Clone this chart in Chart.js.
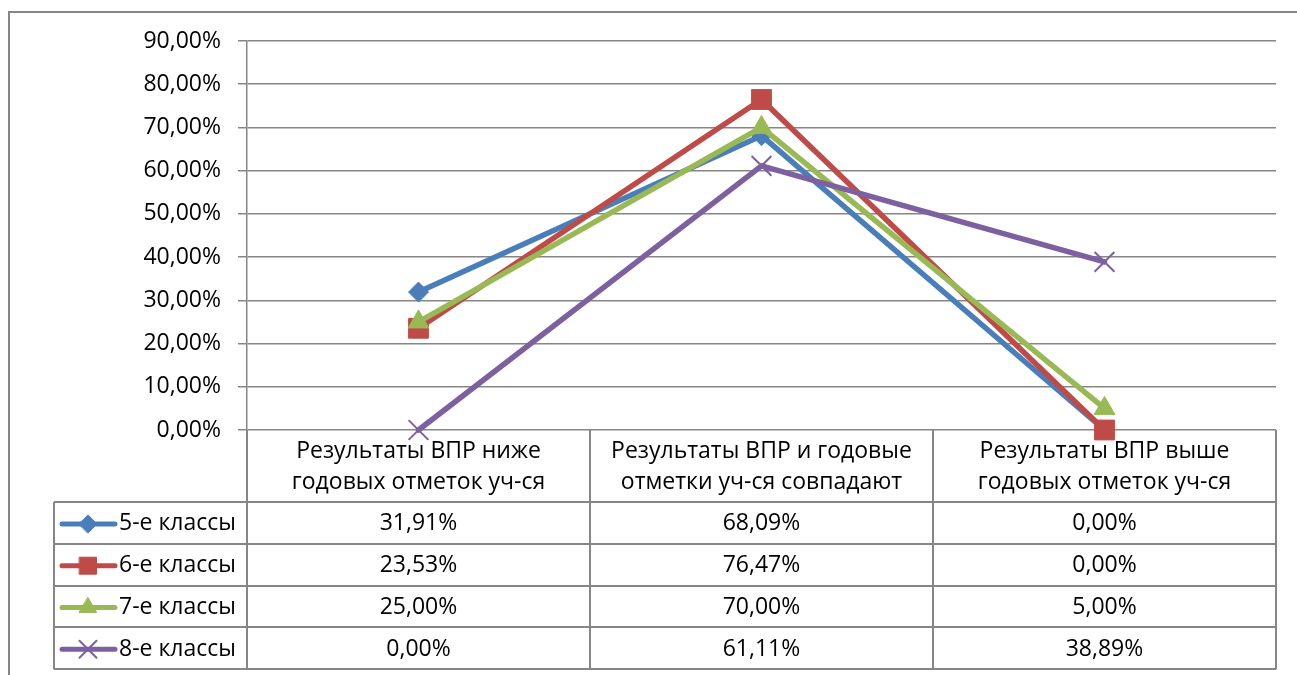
<!DOCTYPE html>
<html>
<head>
<meta charset="utf-8">
<script src="https://cdn.jsdelivr.net/npm/chart.js@4"></script>
<style>
  html, body { margin: 0; padding: 0; background: #fff; }
  #wrap { width: 1297px; height: 675px; }
</style>
</head>
<body>
<div id="wrap"><canvas id="chart" width="1297" height="675"></canvas></div>
<script>
const categories = [
  ['Результаты ВПР ниже', 'годовых отметок уч-ся'],
  ['Результаты ВПР и годовые', 'отметки уч-ся совпадают'],
  ['Результаты ВПР выше', 'годовых отметок уч-ся']
];
const seriesNames = ['5-е классы', '6-е классы', '7-е классы', '8-е классы'];
const grade5 = [31.91, 68.09, 0.00];
const grade6 = [23.53, 76.47, 0.00];
const grade7 = [25.00, 70.00, 5.00];
const grade8 = [0.00, 61.11, 38.89];
const yTicks = [0, 10, 20, 30, 40, 50, 60, 70, 80, 90];

const FONT = '"Open Sans", sans-serif';
const GRID = '#868686';

function pct(v) {
  return v.toFixed(2).replace('.', ',') + '%';
}

// marker look per series
const styles = [
  { color: '#4A7EBB', point: 'rectRot', radius: 10, key: 9, bw: 1 },
  { color: '#BE4B48', point: 'rect', radius: 14, key: 12, bw: 1 },
  { color: '#98B954', point: 'triangle', radius: 12, key: 10, bw: 1 },
  { color: '#7D60A0', point: 'crossRot', radius: 14, key: 12, bw: 2 }
];
const allSeries = [grade5, grade6, grade7, grade8];

// outer frame of the chart area (cut off at right and bottom like the source)
const framePlugin = {
  id: 'frame',
  beforeDraw(chart) {
    const ctx = chart.ctx;
    ctx.save();
    ctx.strokeStyle = GRID;
    ctx.lineWidth = 2;
    ctx.beginPath();
    ctx.moveTo(9, 700);
    ctx.lineTo(9, 12);
    ctx.lineTo(1310, 12);
    ctx.stroke();
    ctx.restore();
  }
};

// data table under the plot
const tablePlugin = {
  id: 'dataTable',
  afterDraw(chart) {
    const ctx = chart.ctx;
    const x = chart.scales.x;
    const area = chart.chartArea;
    const half = (x.getPixelForValue(1) - x.getPixelForValue(0)) / 2;
    const top = area.bottom;
    const headBottom = top + 72;
    const rowH = 41.8;
    const bottom = headBottom + rowH * seriesNames.length;
    const legLeft = 54;

    ctx.save();
    ctx.strokeStyle = GRID;
    ctx.lineWidth = 2;
    ctx.beginPath();
    // vertical lines
    for (let i = 0; i <= categories.length; i++) {
      const px = Math.round(x.getPixelForValue(0) - half + i * half * 2);
      ctx.moveTo(px, top);
      ctx.lineTo(px, bottom);
    }
    ctx.moveTo(legLeft, headBottom);
    ctx.lineTo(legLeft, bottom);
    // horizontal lines
    for (let r = 0; r <= seriesNames.length; r++) {
      const py = Math.round(headBottom + r * rowH);
      ctx.moveTo(legLeft, py);
      ctx.lineTo(area.right, py);
    }
    ctx.stroke();

    ctx.fillStyle = '#000';
    ctx.font = '23px ' + FONT;
    ctx.textAlign = 'center';
    ctx.textBaseline = 'middle';
    categories.forEach((lines, i) => {
      const cx = x.getPixelForValue(i);
      ctx.fillText(lines[0], cx, top + 21);
      ctx.fillText(lines[1], cx, top + 52);
    });

    allSeries.forEach((vals, r) => {
      const cy = headBottom + r * rowH + rowH / 2 + 1;
      vals.forEach((v, i) => {
        ctx.fillStyle = '#000';
        ctx.textAlign = 'center';
        ctx.fillText(pct(v), x.getPixelForValue(i), cy);
      });
      // legend key
      const st = styles[r];
      ctx.strokeStyle = st.color;
      ctx.lineWidth = 5;
      ctx.lineCap = 'round';
      ctx.beginPath();
      ctx.moveTo(62, cy);
      ctx.lineTo(115, cy);
      ctx.stroke();
      ctx.fillStyle = st.color;
      ctx.strokeStyle = st.color;
      ctx.lineWidth = st.bw;
      Chart.helpers.drawPoint(ctx, { pointStyle: st.point, radius: st.key, rotation: 0, borderWidth: st.bw }, 88, cy);
      ctx.fillStyle = '#000';
      ctx.textAlign = 'left';
      ctx.fillText(seriesNames[r], 119, cy);
    });
    ctx.restore();
  }
};

new Chart(document.getElementById('chart'), {
  type: 'line',
  data: {
    labels: categories,
    datasets: allSeries.map((vals, i) => ({
      label: seriesNames[i],
      data: vals,
      borderColor: styles[i].color,
      backgroundColor: styles[i].color,
      borderWidth: 5.5,
      borderCapStyle: 'round',
      borderJoinStyle: 'round',
      tension: 0,
      clip: false,
      pointStyle: styles[i].point,
      pointRadius: styles[i].radius,
      pointBorderWidth: styles[i].bw,
      pointBorderColor: styles[i].color,
      pointBackgroundColor: styles[i].color,
      order: allSeries.length - i
    }))
  },
  options: {
    responsive: false,
    animation: false,
    layout: { padding: { top: 41, right: 21, bottom: 245, left: 0 } },
    plugins: {
      legend: { display: false },
      tooltip: { enabled: false }
    },
    scales: {
      x: {
        display: false,
        offset: true
      },
      y: {
        min: 0,
        max: 90,
        afterFit(scale) { scale.width = 247; },
        afterBuildTicks(scale) { scale.ticks = yTicks.map(v => ({ value: v })); },
        grid: { color: GRID, lineWidth: 1.5, tickLength: 9, drawTicks: true },
        border: { color: GRID, width: 1.5 },
        ticks: {
          padding: 17,
          color: '#000',
          font: { family: FONT, size: 23 },
          callback: v => pct(v)
        }
      }
    }
  },
  plugins: [framePlugin, tablePlugin]
});
</script>
</body>
</html>
